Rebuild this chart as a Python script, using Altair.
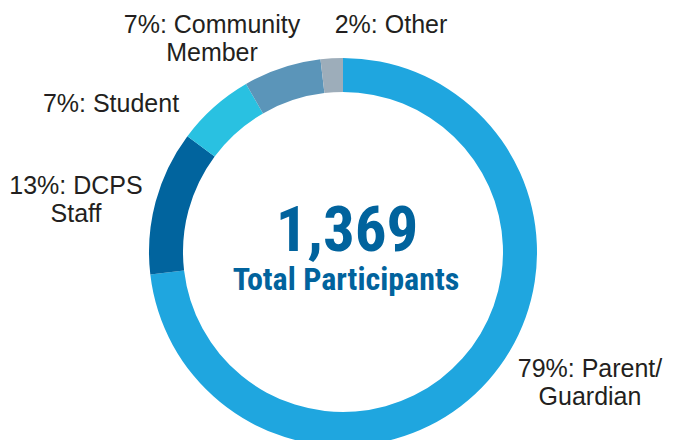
import altair as alt
import pandas as pd

# ---- data ----
categories = ["Parent/Guardian", "DCPS Staff", "Student", "Community Member", "Other"]
shares = [79, 13, 7, 7, 2]
label_texts = ["79%: Parent/\nGuardian", "13%: DCPS\nStaff", "7%: Student",
               "7%: Community\nMember", "2%: Other"]
total_participants = 1369
total_caption = "Total Participants"

# ---- styles / layout ----
colors = ["#1fa6df", "#01649e", "#29c1e1", "#5b95b9", "#9dadba"]
CX, CY = 343, 252
label_x = [590, 76, 111, 212, 391]
label_y = [377, 194, 112, 33, 33]

df = pd.DataFrame({"category": categories, "share": shares, "order": list(range(len(categories)))})
lab = pd.DataFrame({"label": label_texts, "lx": label_x, "ly": label_y})
center = pd.DataFrame({"num": [f"{total_participants:,}"], "cap": [total_caption]})

arcs = alt.Chart(df).mark_arc(innerRadius=160, outerRadius=194).encode(
    theta=alt.Theta("share:Q", stack=True),
    color=alt.Color("category:N", scale=alt.Scale(domain=categories, range=colors), legend=None),
    order=alt.Order("order:Q"),
    x=alt.value(CX),
    y=alt.value(CY),
)

labels = alt.Chart(lab).mark_text(
    font="Liberation Sans", fontSize=25, color="#231f20", align="center",
    baseline="alphabetic", lineBreak="\n", lineHeight=28,
).encode(
    x=alt.X("lx:Q", scale=None),
    y=alt.Y("ly:Q", scale=None),
    text="label:N",
)

num = alt.Chart(center).mark_text(
    font="Liberation Sans Narrow, Roboto Condensed, DejaVu Sans Condensed, sans-serif",
    fontSize=63, fontWeight="bold", color="#01639d", align="center", baseline="alphabetic",
).encode(x=alt.value(347), y=alt.value(251), text="num:N")

cap = alt.Chart(center).mark_text(
    font="Liberation Sans Narrow, Roboto Condensed, DejaVu Sans Condensed, sans-serif",
    fontSize=32, fontWeight="bold", color="#01639d", align="center", baseline="alphabetic",
).encode(x=alt.value(346), y=alt.value(290), text="cap:N")

chart = alt.layer(arcs, labels, num, cap).properties(
    width=678, height=440, padding=0, autosize="none", background="white"
).configure_view(stroke=None)

chart.save("out.html", embed_options={"renderer": "svg", "actions": False})
